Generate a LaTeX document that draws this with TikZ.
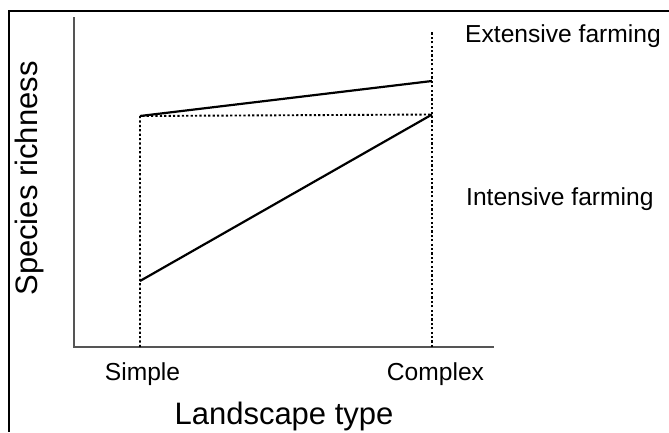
\documentclass[tikz,border=0pt]{standalone}
\usepackage{fontspec}
\setmainfont{Liberation Sans}
\usepackage{tikz}
\definecolor{axisgray}{HTML}{555555}
\tikzset{
  axis/.style={axisgray,line width=2.8pt},
  guide/.style={black,line width=1.9pt,dash pattern=on 2.2pt off 2.2pt},
  trend/.style={black,line width=2.2pt},
  lbl/.style={inner sep=0pt,font=\fontsize{24.6}{30}\selectfont},
  title/.style={inner sep=0pt,font=\fontsize{31}{36}\selectfont}
}

\begin{document}
\begin{tikzpicture}[x=1pt,y=-1pt]
  \useasboundingbox (0,0) rectangle (669,432);
  \draw[line width=1.2pt] (669,11) -- (9,11) -- (9,432);
  % axes
  \coordinate (origin) at (74,347);
  \coordinate (ytop) at (74,17);
  \coordinate (xend) at (494,347);
  \draw[axis] (ytop) -- (origin) -- (xend);
  % guide lines
  \coordinate (simple) at (140,347);
  \coordinate (complex) at (432,347);
  \coordinate (stop) at (140,116);
  \coordinate (ctop) at (432,32);
  \coordinate (cmid) at (432,114.5);
  \draw[guide] (simple) -- (stop) -- (cmid);
  \draw[guide] (complex) -- (ctop);
  % farming lines
  \coordinate (ext) at (432,81);
  \coordinate (sint) at (140,281);
  \draw[trend] (stop) -- (ext);
  \draw[trend] (sint) -- (cmid);
  % labels
  \node[lbl,anchor=base west] (extlbl) at (465,42.5) {Extensive farming};
  \node[lbl,anchor=base west] (intlbl) at (466,205.5) {Intensive farming};
  \node[lbl,anchor=base] (simplelbl) at (142.5,380) {Simple};
  \node[lbl,anchor=base] (complexlbl) at (435.5,380) {Complex};
  \node[title,anchor=base] (xlbl) at (284,424.5) {Landscape type};
  \node[title,anchor=base,rotate=90] (ylbl) at (37,178.5) {Species richness};
\end{tikzpicture}
\end{document}
